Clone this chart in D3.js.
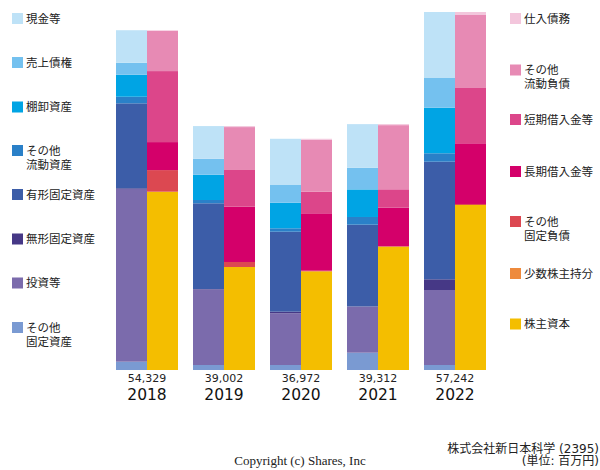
<!DOCTYPE html>
<html><head><meta charset="utf-8">
<script src="https://cdn.jsdelivr.net/npm/d3@7"></script>
<style>body{margin:0;background:#fff}svg{display:block}</style>
</head><body>
<svg id="c" width="600" height="470"></svg>
<script>
const years = ["2018","2019","2020","2021","2022"];
const totals = [54329, 39002, 36972, 39312, 57242];

// Assets (bottom to top)
const otherFixedAssets = [1327, 800, 800, 2766, 800];
const investments      = [27613, 12072, 8267, 7355, 11993];
const intangibles      = [110, 80, 256, 50, 1711];
const tangibles        = [13590, 13703, 12792, 13064, 18804];
const otherCurrent     = [1055, 528, 544, 1231, 1343];
const inventories      = [3518, 4045, 4094, 4413, 7291];
const receivables      = [1919, 2558, 2830, 3470, 4749];
const cash             = [5197, 5216, 7389, 6963, 10551];

// Liabilities & equity (bottom to top)
const equity           = [28510, 16470, 15782, 19716, 26384];
const minority         = [0, 0, 0, 0, 0];
const otherFixedLiab   = [3454, 800, 96, 110, 160];
const longTermDebt     = [4477, 8843, 9178, 6124, 9706];
const shortTermDebt    = [11353, 5868, 3454, 2942, 8843];
const otherCurrentLiab = [6425, 6861, 8302, 10260, 11669];
const payables         = [110, 160, 160, 160, 480];

const assetSeries = [
  {name:"その他\n固定資産", values:otherFixedAssets, color:"#7a9ad2"},
  {name:"投資等", values:investments, color:"#7b6bac"},
  {name:"無形固定資産", values:intangibles, color:"#463886"},
  {name:"有形固定資産", values:tangibles, color:"#3c5da8"},
  {name:"その他\n流動資産", values:otherCurrent, color:"#2a80c8"},
  {name:"棚卸資産", values:inventories, color:"#00a4e4"},
  {name:"売上債権", values:receivables, color:"#74c1ef"},
  {name:"現金等", values:cash, color:"#bee2f7"}
];
const liabSeries = [
  {name:"株主資本", values:equity, color:"#f4be00"},
  {name:"少数株主持分", values:minority, color:"#ee8a3c"},
  {name:"その他\n固定負債", values:otherFixedLiab, color:"#dc4851"},
  {name:"長期借入金等", values:longTermDebt, color:"#d4006a"},
  {name:"短期借入金等", values:shortTermDebt, color:"#dc468a"},
  {name:"その他\n流動負債", values:otherCurrentLiab, color:"#e78ab4"},
  {name:"仕入債務", values:payables, color:"#f3c6dc"}
];

const svg = d3.select("#c");
const FONT = "'DejaVu Sans','Noto Sans CJK JP',sans-serif";

const x = d3.scaleBand().domain(years).range([108.5, 493.5]).paddingInner(15/77).paddingOuter(7.5/77);
const side = d3.scaleBand().domain(["a","l"]).range([0, x.bandwidth()]);
const y = d3.scaleLinear().domain([0, d3.max(totals)]).range([370, 12]);

function drawStack(series, key) {
  const rows = years.map((yr, i) => {
    const r = {year: yr};
    series.forEach((s, j) => r["s"+j] = s.values[i]);
    return r;
  });
  const stack = d3.stack().keys(series.map((s, j) => "s"+j))(rows);
  const g = svg.append("g");
  stack.forEach((layer, j) => {
    g.selectAll(null).data(layer).enter().append("rect")
      .attr("x", d => x(d.data.year) + side(key))
      .attr("width", side.bandwidth())
      .attr("y", d => y(d[1]))
      .attr("height", d => Math.max(0, y(d[0]) - y(d[1])))
      .attr("fill", series[j].color);
  });
}
drawStack(assetSeries, "a");
drawStack(liabSeries, "l");

// value labels and years
years.forEach((yr, i) => {
  const cx = x(yr) + x.bandwidth()/2;
  svg.append("text").attr("x", cx).attr("y", 382).attr("text-anchor","middle")
    .attr("font-family", FONT).attr("font-size", 11).attr("fill","#222")
    .text(d3.format(",")(totals[i]));
  svg.append("text").attr("x", cx).attr("y", 400).attr("text-anchor","middle")
    .attr("font-family", FONT).attr("font-size", 15.5).attr("fill","#111")
    .text(yr);
});

// legends
function legend(items, sx, tx, ys) {
  items.forEach((it, i) => {
    const cy = ys[i];
    svg.append("rect").attr("x", sx).attr("y", cy - 5.5).attr("width", 11).attr("height", 11).attr("fill", it.color);
    const lines = it.name.split("\n");
    const t = svg.append("text").attr("font-family", FONT).attr("font-size", 11.5).attr("fill","#222");
    lines.forEach((ln, k) => {
      t.append("tspan").attr("x", tx).attr("y", cy + 4 + k*14).text(ln);
    });
  });
}
const leftItems = assetSeries.slice().reverse();
legend(leftItems, 12, 26, [18.5, 62.5, 107, 150.5, 194.5, 239, 283, 327.5]);
const rightItems = liabSeries.slice().reverse();
legend(rightItems, 510, 524, [18.5, 70, 119.5, 171.5, 221.5, 273.5, 324]);

// footer
svg.append("text").attr("x", 300).attr("y", 465).attr("text-anchor","middle")
  .attr("font-family","'Liberation Serif','Times New Roman',serif").attr("font-size", 13).attr("fill","#222")
  .text("Copyright (c) Shares, Inc");
svg.append("text").attr("x", 599).attr("y", 452.5).attr("text-anchor","end")
  .attr("font-family", FONT).attr("font-size", 12).attr("fill","#222")
  .text("株式会社新日本科学 (2395)");
svg.append("text").attr("x", 599).attr("y", 465).attr("text-anchor","end")
  .attr("font-family", FONT).attr("font-size", 12).attr("fill","#222")
  .text("(単位: 百万円)");
</script>
</body></html>
